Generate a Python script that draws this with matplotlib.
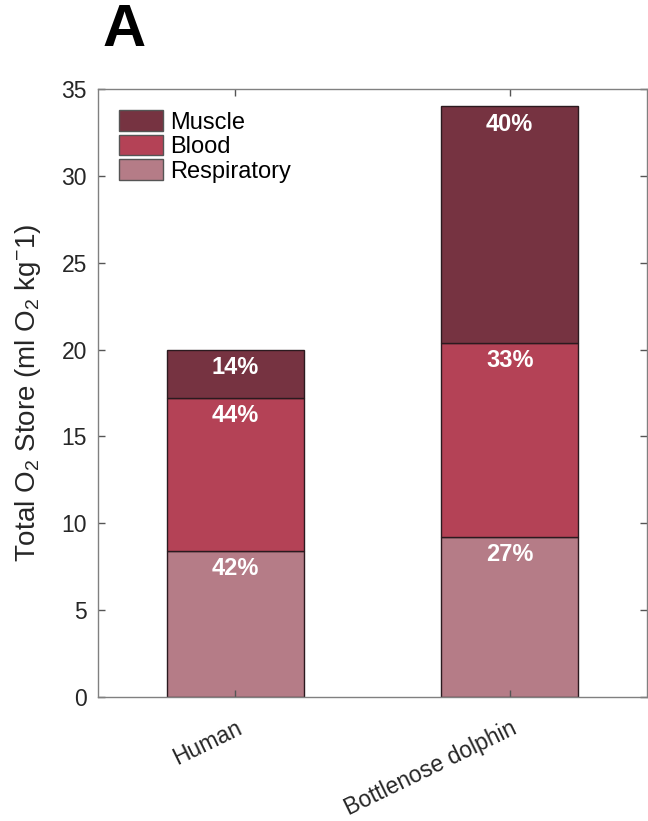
import numpy as np
import matplotlib
matplotlib.use("Agg")
import matplotlib.pyplot as plt

plt.rcParams['font.family'] = ['Liberation Sans', 'DejaVu Sans']
plt.rcParams['mathtext.fontset'] = 'custom'
plt.rcParams['mathtext.rm'] = 'Liberation Sans'
plt.rcParams['mathtext.it'] = 'Liberation Sans'

# O2 stores per species (ml O2 / kg)
species = ['Human', 'Bottlenose dolphin']
respiratory = [8.4, 9.2]
blood = [8.8, 11.2]
muscle = [2.8, 13.6]
pct_resp = ['42%', '27%']
pct_blood = ['44%', '33%']
pct_muscle = ['14%', '40%']

c_muscle = '#763341'
c_blood = '#b44256'
c_resp = '#b57c87'
edge = '#2b1a1f'

fig = plt.figure(figsize=(6.48, 8.21), dpi=100)
ax = fig.add_axes([98/648, 124/821, 549/648, 608/821])

x = np.arange(1, len(species) + 1)
resp = np.array(respiratory)
bld = np.array(blood)
mus = np.array(muscle)

b1 = ax.bar(x, resp, width=0.5, color=c_resp, edgecolor=edge, linewidth=1, label='Respiratory')
b2 = ax.bar(x, bld, width=0.5, bottom=resp, color=c_blood, edgecolor=edge, linewidth=1, label='Blood')
b3 = ax.bar(x, mus, width=0.5, bottom=resp + bld, color=c_muscle, edgecolor=edge, linewidth=1, label='Muscle')

# percentage labels just under the top of each segment
tops = [resp, resp + bld, resp + bld + mus]
texts = [pct_resp, pct_blood, pct_muscle]
for t, lab in zip(tops, texts):
    for xi, yi, s in zip(x, t, lab):
        ax.annotate(s, (xi, yi), xytext=(0, -4.5), textcoords='offset points',
                    ha='center', va='top', color='white', fontsize=17, fontweight='bold')

ax.set_xlim(0.5, 2.5)
ax.set_ylim(0, 35)
ax.set_yticks(np.arange(0, 36, 5))
ax.set_xticks(x)
ax.set_xticklabels(species, rotation=26, ha='right', rotation_mode='anchor')

ax.tick_params(direction='in', length=5, width=1, color='#555555', labelcolor='#262626',
               labelsize=16.5, top=True, right=True, pad=8)
ax.tick_params(axis='x', labelsize=16.5, pad=14)
for sp in ax.spines.values():
    sp.set_color('#808080')
    sp.set_linewidth(1)

ax.set_ylabel(r'Total O$_2$ Store (ml O$_2$ kg$^{-}$1)', fontsize=20, color='#262626', labelpad=4)
ax.yaxis.set_label_coords(-0.10, 0.5)

leg = ax.legend(handles=[b3, b2, b1], loc='upper left', frameon=False, fontsize=17,
                handlelength=1.85, handleheight=0.95, labelspacing=0.05, handletextpad=0.3,
                borderaxespad=0.55, borderpad=0.35)
for h in leg.legend_handles:
    h.set_edgecolor('#555555')

fig.text(124/648, 1 - 30/821, 'A', fontsize=43, fontweight='bold', ha='center', va='center')

fig.savefig('out.png', dpi=100)
